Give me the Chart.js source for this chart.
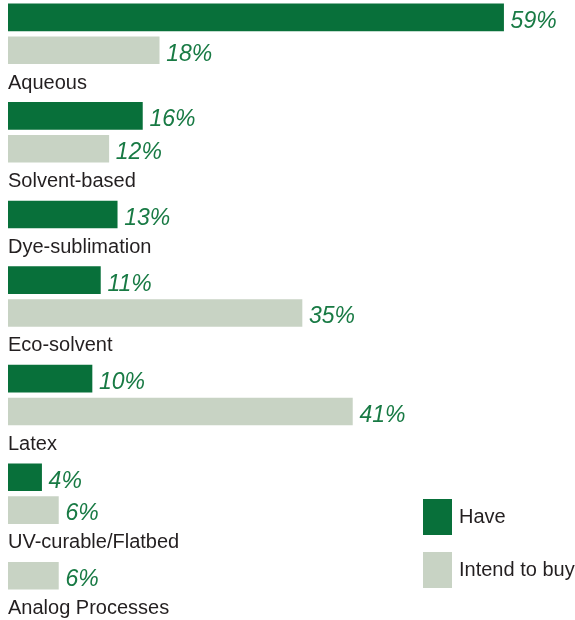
<!DOCTYPE html>
<html>
<head>
<meta charset="utf-8">
<script src="https://cdn.jsdelivr.net/npm/chart.js@4.4.0/dist/chart.umd.min.js"></script>
<style>
  html, body { margin: 0; padding: 0; background: #fff; overflow: hidden; }
  #wrap { position: relative; width: 575px; height: 648px; margin-top: -11px; }
</style>
</head>
<body>
<div id="wrap"><canvas id="techChart"></canvas></div>
<script>
const categories = ["Aqueous", "Solvent-based", "Dye-sublimation", "Eco-solvent", "Latex", "UV-curable/Flatbed", "Analog Processes"];
const have = [59, 16, 13, 11, 10, 4, null];
const intendToBuy = [18, 12, null, 35, 41, 6, 6];
const seriesNames = ["Have", "Intend to buy"];

const HAVE_COLOR = "#08703a";
const INTEND_COLOR = "#c8d3c4";
const LABEL_GREEN = "#187a44";
const TEXT_COLOR = "#231f20";

// one row per bar, then one row for the category name underneath
const rowLabels = [], haveRows = [], intendRows = [];
categories.forEach((cat, i) => {
    if (have[i] !== null) { rowLabels.push(""); haveRows.push(have[i]); intendRows.push(null); }
    if (intendToBuy[i] !== null) { rowLabels.push(""); haveRows.push(null); intendRows.push(intendToBuy[i]); }
    rowLabels.push(cat); haveRows.push(null); intendRows.push(null);
});

// percentages after each bar
const valueLabels = {
    id: "valueLabels",
    afterDatasetsDraw(chart) {
        const ctx = chart.ctx;
        ctx.save();
        ctx.font = "italic 23px 'Liberation Sans', Arial, sans-serif";
        ctx.fillStyle = LABEL_GREEN;
        ctx.textAlign = "left";
        ctx.textBaseline = "middle";
        chart.data.datasets.forEach((ds, di) => {
            chart.getDatasetMeta(di).data.forEach((bar, j) => {
                const v = ds.data[j];
                if (v === null) return;
                ctx.fillText(v + "%", bar.x + 7, bar.y + 4);
            });
        });
        ctx.restore();
    }
};

// legend in the lower right corner
const boxLegend = {
    id: "boxLegend",
    afterDraw(chart) {
        const ctx = chart.ctx;
        ctx.save();
        ctx.font = "20px 'Liberation Sans', Arial, sans-serif";
        ctx.textBaseline = "middle";
        chart.data.datasets.forEach((ds, i) => {
            const top = 510 + i * 53;   // canvas is shifted up 11px
            ctx.fillStyle = ds.backgroundColor;
            ctx.fillRect(423, top, 29, 36);
            ctx.fillStyle = TEXT_COLOR;
            ctx.fillText(ds.label, 459, top + 18);
        });
        ctx.restore();
    }
};

new Chart(document.getElementById("techChart"), {
    type: "bar",
    data: {
        labels: rowLabels,
        datasets: [
            { label: seriesNames[0], data: haveRows, backgroundColor: HAVE_COLOR },
            { label: seriesNames[1], data: intendRows, backgroundColor: INTEND_COLOR }
        ]
    },
    options: {
        indexAxis: "y",
        responsive: true,
        maintainAspectRatio: false,
        animation: false,
        layout: { padding: { left: 0, right: 21, top: 0, bottom: 0 } },
        datasets: { bar: { grouped: false, barThickness: 27, borderWidth: 0 } },
        scales: {
            x: { display: false, min: 0, max: 65 },
            y: {
                grid: { display: false },
                border: { display: false },
                ticks: {
                    mirror: true,
                    padding: 0,
                    autoSkip: false,
                    color: TEXT_COLOR,
                    font: { family: "'Liberation Sans', Arial, sans-serif", size: 20 }
                }
            }
        },
        plugins: { legend: { display: false }, tooltip: { enabled: false } }
    },
    plugins: [valueLabels, boxLegend]
});
</script>
</body>
</html>
